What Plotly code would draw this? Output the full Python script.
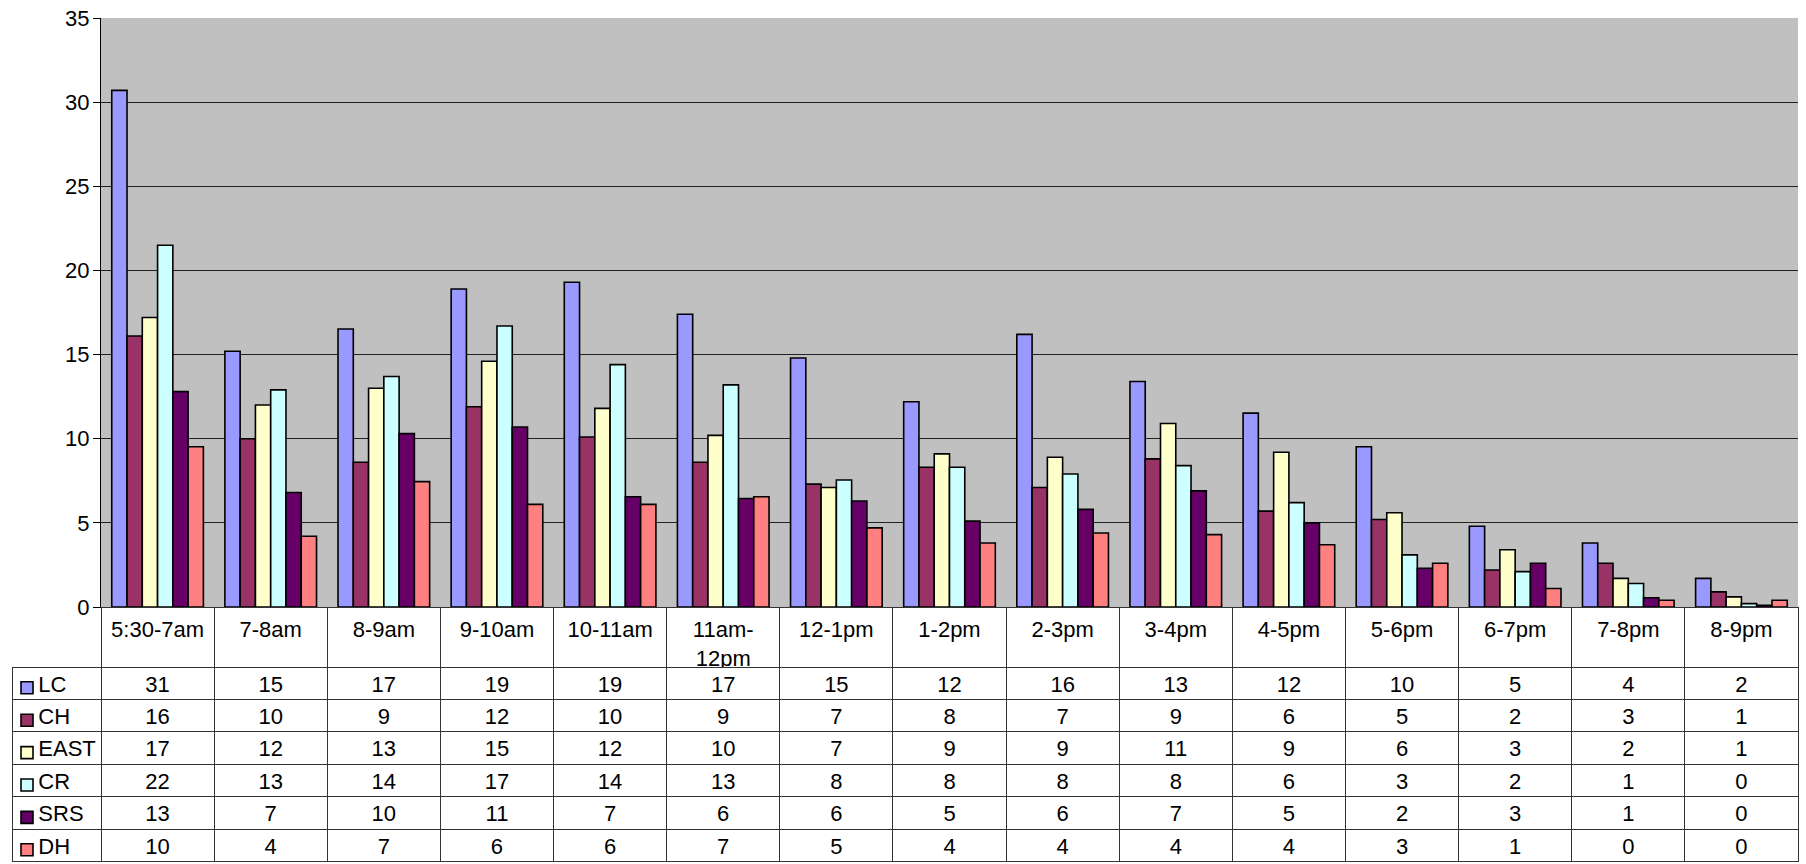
import math
import plotly.graph_objects as go

categories = ["5:30-7am", "7-8am", "8-9am", "9-10am", "10-11am", "11am-<br>12pm",
              "12-1pm", "1-2pm", "2-3pm", "3-4pm", "4-5pm", "5-6pm", "6-7pm",
              "7-8pm", "8-9pm"]

series_names = ["LC", "CH", "EAST", "CR", "SRS", "DH"]
LC = [30.7, 15.2, 16.52, 18.9, 19.3, 17.4, 14.8, 12.2, 16.2, 13.4, 11.52, 9.52, 4.8, 3.8, 1.7]
CH = [16.1, 10.0, 8.6, 11.9, 10.1, 8.6, 7.3, 8.3, 7.1, 8.8, 5.7, 5.2, 2.2, 2.6, 0.9]
EAST = [17.2, 12.0, 13.0, 14.6, 11.8, 10.2, 7.1, 9.1, 8.9, 10.9, 9.2, 5.6, 3.4, 1.7, 0.6]
CR = [21.5, 12.9, 13.7, 16.7, 14.4, 13.2, 7.55, 8.3, 7.9, 8.4, 6.2, 3.1, 2.1, 1.4, 0.2]
SRS = [12.8, 6.8, 10.3, 10.7, 6.55, 6.45, 6.3, 5.1, 5.8, 6.9, 5.0, 2.3, 2.6, 0.55, 0.1]
DH = [9.52, 4.2, 7.45, 6.1, 6.1, 6.55, 4.7, 3.8, 4.4, 4.3, 3.7, 2.6, 1.1, 0.4, 0.4]

colors = ["#9999FF", "#993366", "#FFFFCC", "#CCFFFF", "#660066", "#FF8080"]
y_ticks = [0, 5, 10, 15, 20, 25, 30, 35]

series = [LC, CH, EAST, CR, SRS, DH]
W, H = 1806, 864
FONT = "Liberation Sans, Arial, sans-serif"
FS = 22
NBSP = "\u00a0"

fig = go.Figure()
for name, vals, col in zip(series_names, series, colors):
    # legend only supplies the outlined colour key; the series name is written in the table
    fig.add_trace(go.Bar(
        x=categories, y=vals, name=NBSP, legendgroup=name,
        hovertemplate=name + ": %{y}<extra></extra>",
        marker=dict(color=col, line=dict(color="black", width=1.6)),
        xaxis="x", yaxis="y",
    ))

def half_up(v):
    return str(int(math.floor(v + 0.5)))

cell_cols = [[NBSP * 3 + n for n in series_names]]
for i in range(len(categories)):
    cell_cols.append([half_up(s[i]) for s in series])

plot_left, plot_right, plot_top, plot_bottom = 101, 1798, 18, 607
table_left = 12

fig.add_trace(go.Table(
    domain=dict(x=[table_left / W, plot_right / W], y=[0, 1 - plot_bottom / H]),
    columnwidth=[plot_left - table_left] + [(plot_right - plot_left) / 15] * 15,
    header=dict(values=[""] * 16, height=60,
                align="center", font=dict(family=FONT, size=FS, color="black"),
                fill=dict(color="rgba(0,0,0,0)"),
                line=dict(color=["rgba(0,0,0,0)"] + ["#333333"] * 15, width=1)),
    cells=dict(values=cell_cols, height=32.4, align=["left"] + ["center"] * 15,
               font=dict(family=FONT, size=FS, color="black"),
               fill=dict(color="white"),
               line=dict(color="#333333", width=1)),
))

fig.update_layout(
    width=W, height=H,
    margin=dict(l=0, r=0, t=0, b=0, autoexpand=False),
    paper_bgcolor="white",
    plot_bgcolor="#C0C0C0",
    barmode="group", bargap=0.19, bargroupgap=0,
    font=dict(family=FONT, size=FS, color="black"),
    xaxis=dict(domain=[plot_left / W, plot_right / W], showticklabels=True,
               tickfont=dict(size=FS), ticklabelstandoff=3, automargin=False,
               showline=True, linecolor="black", linewidth=1, ticks="",
               showgrid=False, anchor="y"),
    yaxis=dict(domain=[1 - plot_bottom / H, 1 - plot_top / H], range=[0, 35],
               tickvals=y_ticks, ticks="outside", ticklen=7, tickcolor="black",
               ticklabelstandoff=-1, automargin=False,
               showline=True, linecolor="black", linewidth=1,
               showgrid=True, gridcolor="#222222", gridwidth=1,
               zeroline=False, tickfont=dict(size=FS), anchor="x"),
    legend=dict(xref="container", yref="container",
                x=7 / W, xanchor="left", y=1 - 667 / H, yanchor="top",
                tracegroupgap=0.8, bgcolor="rgba(0,0,0,0)", borderwidth=0,
                font=dict(family=FONT, size=FS, color="black"),
                itemclick=False, itemdoubleclick=False),
)

post = ("document.documentElement.style.margin='0';"
        "document.body.style.margin='0';"
        "document.body.style.overflow='hidden';"
        "document.documentElement.style.overflow='hidden';")
fig.write_html("out.html", post_script=post, config={"displayModeBar": False})
